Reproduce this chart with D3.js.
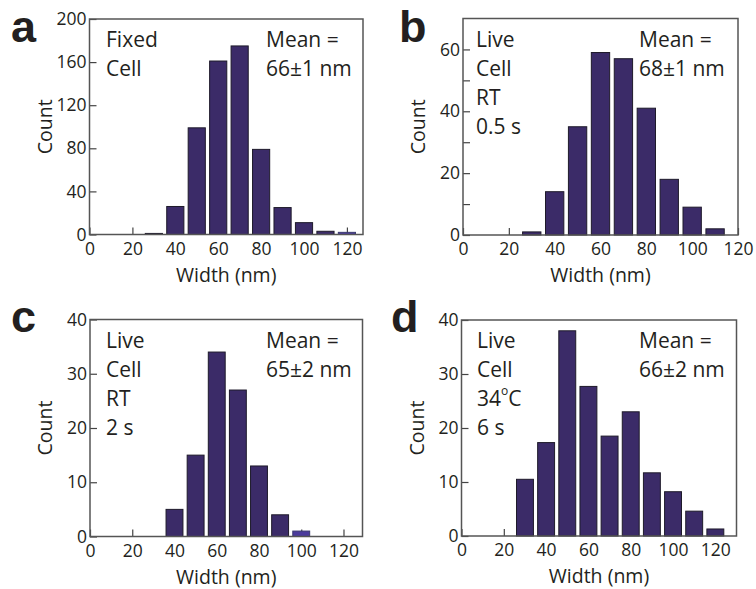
<!DOCTYPE html>
<html><head><meta charset="utf-8">
<script src="https://cdn.jsdelivr.net/npm/d3@7"></script>
<style>
html,body{margin:0;padding:0;background:#fff;}
svg text{font-family:"Open Sans","Noto Sans",sans-serif;fill:#231f20;}
</style></head>
<body><svg id="chart" width="756" height="589"></svg>
<script>
// ---- data ----
const binsA = [30,40,50,60,70,80,90,100,110,120];
const countsA = [1,26,99,161,175,79,25,11,3,2];
const binsB = [30,40,50,60,70,80,90,100,110];
const countsB = [1,14,35,59,57,41,18,9,2];
const binsC = [40,50,60,70,80,90,100];
const countsC = [5,15,34,27,13,4,1];
const binsD = [30,40,50,60,70,80,90,100,110,120];
const countsD = [10.5,17.3,38,27.7,18.5,23,11.7,8.2,4.6,1.3];

const xTicks = [0,20,40,60,80,100,120];
const yTicksA = [0,40,80,120,160,200];
const yTicksB = [0,10,20,30,40,50,60];
const yLabelsB = [0,20,40,60];
const yTicksC = [0,10,20,30,40];
const yTicksD = [0,10,20,30,40];

const labelsA = ["Fixed","Cell"];
const labelsB = ["Live","Cell","RT","0.5 s"];
const labelsC = ["Live","Cell","RT","2 s"];
const labelsD = ["Live","Cell","34°C","6 s"];
const meanA = ["Mean =","66±1 nm"];
const meanB = ["Mean =","68±1 nm"];
const meanC = ["Mean =","65±2 nm"];
const meanD = ["Mean =","66±2 nm"];

const svg = d3.select("#chart");
const barColor = "#3b2b68";
const lightColor = "#4b3b9c";

function panel(o){
  const g = svg.append("g");
  const x = d3.scaleLinear().domain([0,o.xmax]).range([o.left,o.right]);
  const y = d3.scaleLinear().domain([0,o.ymax]).range([o.bottom,o.top]);
  g.append("g").attr("transform",`translate(0,${o.bottom})`)
    .call(d3.axisBottom(x).tickValues(xTicks).tickSizeInner(-7).tickSizeOuter(0).tickPadding(8))
    .call(a=>{a.select(".domain").remove();
      a.selectAll("line").attr("stroke","#444").attr("stroke-width",1.2);
      a.selectAll("text").attr("font-size",17.5).attr("fill","#231f20").attr("dy","0.71em");});
  g.append("g").attr("transform",`translate(${o.left},0)`)
    .call(d3.axisLeft(y).tickValues(o.yTicks).tickSizeInner(-7).tickSizeOuter(0).tickPadding(3)
      .tickFormat(d=>o.yLabels.includes(d)?d:""))
    .call(a=>{a.select(".domain").remove();
      a.selectAll("line").attr("stroke","#444").attr("stroke-width",1.2);
      a.selectAll("text").attr("font-size",17.5).attr("fill","#231f20").attr("dy","0.32em");});
  const bw = x(8)-x(0);
  g.selectAll("rect.bar").data(o.bins.map((b,i)=>({b,v:o.counts[i],i})))
    .join("rect").attr("class","bar")
    .attr("x",d=>x(d.b)-bw/2).attr("width",bw)
    .attr("y",d=>y(d.v)).attr("height",d=>y(0)-y(d.v))
    .attr("fill",d=>o.light.includes(d.i)?lightColor:barColor)
    .attr("stroke",d=>o.light.includes(d.i)?"#3a3a70":"#1e1a2a").attr("stroke-width",1);
  g.append("rect").attr("x",o.left).attr("y",o.top)
    .attr("width",o.right-o.left).attr("height",o.bottom-o.top)
    .attr("fill","none").attr("stroke","#555").attr("stroke-width",1.5);
  svg.append("text").attr("x",o.lx).attr("y",o.ly).text(o.letter)
    .style("font-family","Arial, 'Liberation Sans', sans-serif")
    .attr("font-weight","bold").attr("font-size",45).attr("fill","#111");
  o.labels.forEach((t,i)=>{
    const tx = svg.append("text").attr("x",o.tx).attr("y",o.ty+i*29).attr("font-size",21);
    if(t.includes("°")){
      const parts = t.split("°");
      tx.append("tspan").text(parts[0]);
      tx.append("tspan").text("o").attr("font-size",12).attr("dy",-11);
      tx.append("tspan").text(parts[1]).attr("dy",11);
    } else tx.text(t);
  });
  o.mean.forEach((t,i)=>{
    svg.append("text").attr("x",o.mx).attr("y",o.ty+i*29).attr("font-size",21).text(t);
  });
  svg.append("text").attr("x",(o.left+o.right)/2).attr("y",o.bottom+47)
    .attr("text-anchor","middle").attr("font-size",19.5).text("Width (nm)");
  svg.append("text").attr("transform",`translate(${o.left-38},${(o.top+o.bottom)/2}) rotate(-90)`)
    .attr("text-anchor","middle").attr("font-size",19.5).text("Count");
}

panel({left:89.5,right:363,top:19,bottom:234.5,xmax:127.5,ymax:200,
  yTicks:yTicksA,yLabels:yTicksA,bins:binsA,counts:countsA,light:[9],
  letter:"a",lx:11,ly:42,labels:labelsA,mean:meanA,tx:106,mx:266,ty:46.5});
panel({left:463,right:738,top:18.5,bottom:235,xmax:120,ymax:70,
  yTicks:yTicksB,yLabels:yLabelsB,bins:binsB,counts:countsB,light:[],
  letter:"b",lx:399,ly:42,labels:labelsB,mean:meanB,tx:476,mx:639,ty:46.5});
panel({left:90,right:362.5,top:319.5,bottom:536.5,xmax:129,ymax:40,
  yTicks:yTicksC,yLabels:yTicksC,bins:binsC,counts:countsC,light:[6],
  letter:"c",lx:11,ly:332,labels:labelsC,mean:meanC,tx:106,mx:266,ty:348});
panel({left:461.5,right:736.5,top:320,bottom:536,xmax:130,ymax:40,
  yTicks:yTicksD,yLabels:yTicksD,bins:binsD,counts:countsD,light:[],
  letter:"d",lx:391,ly:332,labels:labelsD,mean:meanD,tx:477,mx:639,ty:348});
</script></body></html>
